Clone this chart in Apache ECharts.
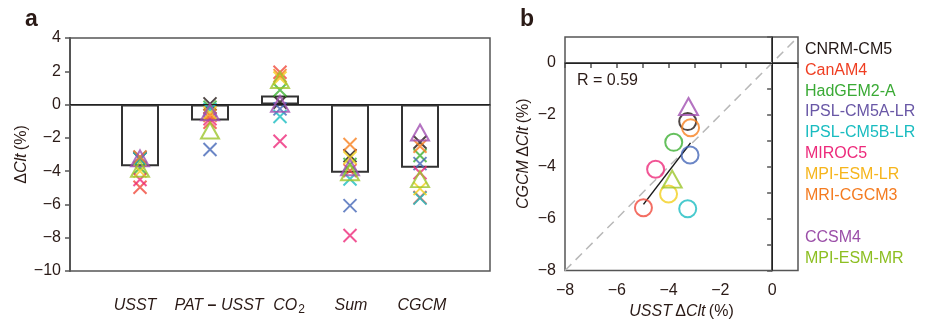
<!DOCTYPE html>
<html>
<head>
<meta charset="utf-8">
<script src="https://cdn.jsdelivr.net/npm/echarts@6/dist/echarts.min.js"></script>
<style>
  html, body { margin: 0; padding: 0; background: #fff; }
  #chart { width: 930px; height: 320px; }
</style>
</head>
<body>
<div id="chart"></div>
<script>
// categories of panel a
const categories = ['USST', 'PAT – USST', 'CO2', 'Sum', 'CGCM'];
// models: 8 AMIP-type (crosses / circles), 2 coupled (triangles)
const models = ['CNRM-CM5', 'CanAM4', 'HadGEM2-A', 'IPSL-CM5A-LR', 'IPSL-CM5B-LR',
                'MIROC5', 'MPI-ESM-LR', 'MRI-CGCM3', 'CCSM4', 'MPI-ESM-MR'];
const amipCount = 8;

// values per model (same order as models), ΔClt in %
const usst     = [-3.26, -4.97, -3.80, -3.17, -3.26, -4.50, -4.00, -3.15, -3.23, -3.86];
const patUsst  = [ 0.04, -1.06, -0.16, -2.70, -0.30, -0.85, -0.50, -0.66, -0.46, -1.56];
const co2      = [ 0.14,  1.94,  0.88, -0.26, -0.72, -2.20,  1.60,  1.74,  0.04,  1.48];
const sumAll   = [-3.07, -3.97, -3.60, -6.07, -4.47, -7.87, -3.20, -2.40, -3.77, -4.07];
const cgcm     = [-2.26, -5.58, -3.06, -3.55, -5.62, -4.10, -5.05, -2.50, -1.68, -4.48];
// multi-model means (bars)
const barMeans = [-3.71, -0.96, 0.54, -4.10, -3.80];
// panel b: regression fit and 1:1 line
const fitLine  = [[-4.97, -5.45], [-3.15, -3.08]];
const oneToOne = [[-8, -8], [1, 1]];
const rValue = 0.59;

const colors = ['#231815', '#f04a3c', '#3fb035', '#4668b8', '#1bbdc2',
                '#ee2a7b', '#f3cf1e', '#f7811f', '#a150b2', '#9cc52b'];
const legendColors = ['#231815', '#ef3e22', '#3aaa35', '#6957a6', '#19bcc0',
                      '#ed2a7b', '#f6b51c', '#f47b20', '#9b4fa8', '#8dbf22'];

const font = 'Liberation Sans, Arial, sans-serif';
const ink = '#2a1a16';
const axisCol = '#555';
const fmt = v => (v < 0 ? '\u2212' + (-v) : String(v));
const crossPath = 'path://M0,0L10,10M10,0L0,10';

// small horizontal nudges of the category labels (left pad, right pad)
const labelPad = [[0, 10], [18, 0], [18, 0], [2, 0], [4, 0]];

const baseCat = { fontSize: 16, lineHeight: 18, color: ink, fontFamily: font, verticalAlign: 'top' };
const catRich = {
  d: Object.assign({}, baseCat, { fontWeight: 'bold' }),
  s: { fontSize: 12, lineHeight: 12, padding: [9, 0, 0, 1], color: ink, fontFamily: font, verticalAlign: 'bottom' }
};
labelPad.forEach((p, k) => {
  catRich['a' + k] = Object.assign({}, baseCat, { fontStyle: 'italic', padding: [0, 0, 0, p[0]] });
  catRich['b' + k] = Object.assign({}, baseCat, { fontStyle: 'italic', padding: [0, p[1], 0, 0] });
  catRich['c' + k] = Object.assign({}, baseCat, { fontStyle: 'italic', padding: [0, p[1], 0, p[0]] });
});
function catLabel(v) {
  const k = v - 1;
  const c = categories[k];
  if (!c) return '';
  if (c === 'CO2') return '{a' + k + '|CO}{s|2}';
  if (c.indexOf('–') >= 0) {
    const parts = c.split('–');
    return '{a' + k + '|' + parts[0] + '}{d|–}{b' + k + '|' + parts[1] + '}';
  }
  return '{c' + k + '|' + c + '}';
}
const nameRich = {
  n: { fontSize: 16, color: ink, fontFamily: font },
  i: { fontSize: 16, color: ink, fontFamily: font, fontStyle: 'italic' }
};

const columns = [usst, patUsst, co2, sumAll, cgcm];
const series = [];

// bars (means) + zero line in panel a
series.push({
  type: 'bar', xAxisIndex: 0, yAxisIndex: 0, barWidth: 38, silent: true,
  data: barMeans.map((v, k) => [k + 1, v]),
  itemStyle: { color: 'rgba(0,0,0,0)', borderColor: '#333', borderWidth: 2 },
  markLine: {
    silent: true, symbol: 'none', label: { show: false },
    lineStyle: { color: '#222', width: 1, type: 'solid' },
    data: [{ yAxis: 0 }]
  },
  z: 2
});

models.forEach((name, i) => {
  const coupled = i >= amipCount;
  series.push({
    type: 'scatter', name, xAxisIndex: 0, yAxisIndex: 0,
    symbol: coupled ? 'triangle' : crossPath,
    symbolSize: coupled ? [18, 16] : 13,
    itemStyle: { color: 'rgba(0,0,0,0)', borderColor: colors[i], borderWidth: 2 },
    data: columns.map((col, k) => [k + 1, col[i]]),
    z: coupled ? 5 : 4
  });
});

// panel b reference lines
series.push({
  type: 'line', xAxisIndex: 1, yAxisIndex: 1, data: oneToOne, symbol: 'none', silent: true,
  lineStyle: { color: '#b8b8b8', width: 1.5, type: [9, 6] }, z: 1,
  markLine: {
    silent: true, symbol: 'none', label: { show: false },
    lineStyle: { color: '#222', width: 1, type: 'solid' },
    data: [{ yAxis: 0 }, { xAxis: 0 }]
  }
});
series.push({
  type: 'line', xAxisIndex: 1, yAxisIndex: 1, data: fitLine, symbol: 'none', silent: true,
  lineStyle: { color: '#1a1a1a', width: 1.5 }, z: 2
});

models.forEach((name, i) => {
  const coupled = i >= amipCount;
  series.push({
    type: 'scatter', name, xAxisIndex: 1, yAxisIndex: 1,
    symbol: coupled ? 'triangle' : 'circle',
    symbolSize: coupled ? [19, 17] : 17,
    itemStyle: { color: 'rgba(0,0,0,0)', borderColor: colors[i], borderWidth: 2 },
    data: [[usst[i], cgcm[i]]],
    z: 4
  });
});

function legendBlock(names, top) {
  return {
    orient: 'vertical', left: 795, top, icon: 'none', itemWidth: 0, itemHeight: 14, itemGap: 4.8,
    selectedMode: false,
    textStyle: { fontSize: 16, fontFamily: font, lineHeight: 15 },
    data: names.map(n => ({ name: n, textStyle: { color: legendColors[models.indexOf(n)] } }))
  };
}

const axisLineStyle = { show: true, lineStyle: { color: axisCol, width: 2 } };
const tickLabel = { fontSize: 16, color: ink, fontFamily: font };

const option = {
  animation: false,
  backgroundColor: '#fff',
  title: [
    { text: 'a', left: 20, top: 3, textStyle: { fontSize: 23, fontWeight: 'bold', color: ink, fontFamily: font } },
    { text: 'b', left: 515, top: 3, textStyle: { fontSize: 23, fontWeight: 'bold', color: ink, fontFamily: font } }
  ],
  legend: [legendBlock(models.slice(0, amipCount), 36.5), legendBlock(models.slice(amipCount), 224.5)],
  grid: [
    { left: 70, top: 38, width: 420, height: 233, show: true, borderColor: axisCol, borderWidth: 1.5,
      backgroundColor: 'transparent', outerBoundsMode: 'none' },
    { left: 565, top: 37, width: 233, height: 233.5, show: true, borderColor: axisCol, borderWidth: 1.5,
      backgroundColor: 'transparent', outerBoundsMode: 'none' }
  ],
  xAxis: [
    {
      gridIndex: 0, type: 'value', min: 0, max: 6, interval: 1,
      axisLine: axisLineStyle, axisTick: { show: false }, splitLine: { show: false },
      axisLabel: { margin: 27, formatter: catLabel, rich: catRich, color: ink }
    },
    {
      gridIndex: 1, type: 'value', min: -8, max: 1, interval: 1,
      axisLine: axisLineStyle, splitLine: { show: false },
      axisTick: { show: true, length: 5, lineStyle: { color: axisCol, width: 1.5 } },
      axisLabel: Object.assign({ margin: 12, formatter: v => (v % 2 === 0 ? fmt(v) : '') }, tickLabel),
      name: '{i|USST} {n|Δ}{i|Clt} {n|(%)}', nameLocation: 'middle', nameGap: 26,
      nameTextStyle: { rich: nameRich }
    }
  ],
  yAxis: [
    {
      gridIndex: 0, type: 'value', min: -10, max: 4, interval: 2,
      axisLine: axisLineStyle, splitLine: { show: false },
      axisTick: { show: true, length: 5, lineStyle: { color: axisCol, width: 1.5 } },
      axisLabel: Object.assign({ margin: 9, formatter: fmt }, tickLabel),
      name: '{n|Δ}{i|Clt} {n|(%)}', nameLocation: 'middle', nameGap: 32,
      nameTextStyle: { rich: nameRich }
    },
    {
      gridIndex: 1, type: 'value', min: -8, max: 1, interval: 1,
      axisLine: axisLineStyle, splitLine: { show: false },
      axisTick: { show: true, length: 5, lineStyle: { color: axisCol, width: 1.5 } },
      axisLabel: Object.assign({ margin: 9, formatter: v => (v % 2 === 0 ? fmt(v) : '') }, tickLabel),
      name: '{i|CGCM} {n|Δ}{i|Clt} {n|(%)}', nameLocation: 'middle', nameGap: 33,
      nameTextStyle: { rich: nameRich }
    }
  ],
  graphic: [
    { type: 'text', left: 577, top: 73, style: { text: 'R = ' + rValue.toFixed(2), fontSize: 16, fill: ink, fontFamily: font } }
  ],
  series
};

const chart = echarts.init(document.getElementById('chart'), null, { renderer: 'canvas' });
chart.setOption(option);
</script>
</body>
</html>
